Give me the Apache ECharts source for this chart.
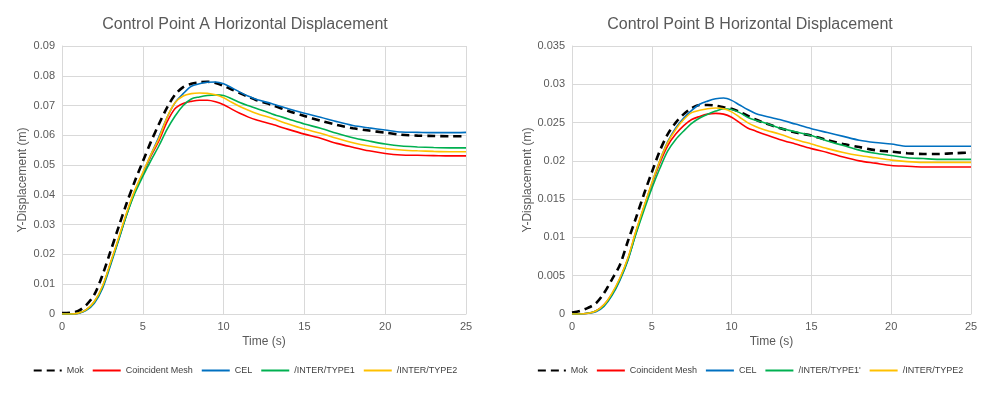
<!DOCTYPE html>
<html>
<head>
<meta charset="utf-8">
<script src="https://cdn.jsdelivr.net/npm/echarts@6/dist/echarts.min.js"></script>
<style>
  html, body { margin: 0; padding: 0; background: #fff; }
  #wrap { position: relative; width: 1006px; height: 396px; }
  #chartA { position: absolute; left: 0; top: 0; width: 490px; height: 396px; }
  #chartB { position: absolute; left: 494px; top: 0; width: 512px; height: 396px; }
</style>
</head>
<body>
<div id="wrap">
  <div id="chartA"></div>
  <div id="chartB"></div>
</div>
<script>
// time samples (s)
var times = [0, 0.5, 1, 1.5, 2, 2.5, 3, 3.5, 4, 4.5, 5, 5.5, 6, 6.5, 7, 7.5,
  8, 8.5, 9, 9.5, 10, 10.5, 11, 11.5, 12,
  13, 14, 15, 16, 17, 18, 19, 20, 21, 22, 23, 24, 25];

// Control point A
var mokA = [0.0003, 0.0004, 0.0010, 0.0030, 0.0065, 0.0130, 0.0210, 0.0292, 0.0372, 0.0445, 0.0512, 0.0578, 0.0638, 0.0693, 0.0737, 0.0762,
  0.0773, 0.0778, 0.0780, 0.0776, 0.0766, 0.0754, 0.0742, 0.0730, 0.0719,
  0.0702, 0.0682, 0.0665, 0.0649, 0.0635, 0.0624, 0.0616, 0.0609, 0.0602, 0.0599, 0.0598, 0.0597, 0.0597];
var meshA = [0, 0, 0.0003, 0.0014, 0.0040, 0.0090, 0.0170, 0.0252, 0.0337, 0.0412, 0.0470, 0.0530, 0.0582, 0.0645, 0.0690, 0.0707,
  0.0714, 0.0718, 0.0718, 0.0713, 0.0703, 0.0688, 0.0674, 0.0662, 0.0652,
  0.0637, 0.0620, 0.0604, 0.0590, 0.0573, 0.0560, 0.0548, 0.0539, 0.0534, 0.0533, 0.0532, 0.0531, 0.0531];
var celA = [0, 0, 0.0002, 0.0012, 0.0036, 0.0085, 0.0163, 0.0247, 0.0333, 0.0410, 0.0472, 0.0535, 0.0595, 0.0660, 0.0710, 0.0740,
  0.0765, 0.0773, 0.0778, 0.0779, 0.0773, 0.0760, 0.0745, 0.0732, 0.0721,
  0.0706, 0.0689, 0.0674, 0.0661, 0.0646, 0.0633, 0.0625, 0.0618, 0.0611, 0.0610, 0.0609, 0.0609, 0.0610];
var type1A = [0, 0, 0.0003, 0.0014, 0.0040, 0.0090, 0.0168, 0.0250, 0.0333, 0.0405, 0.0462, 0.0515, 0.0565, 0.0620, 0.0665, 0.0700,
  0.0722, 0.0729, 0.0734, 0.0736, 0.0734, 0.0723, 0.0710, 0.0700, 0.0691,
  0.0672, 0.0655, 0.0638, 0.0624, 0.0607, 0.0592, 0.0581, 0.0571, 0.0564, 0.0561, 0.0559, 0.0558, 0.0558];
var type2A = [0, 0, 0.0003, 0.0015, 0.0042, 0.0093, 0.0172, 0.0255, 0.0340, 0.0415, 0.0475, 0.0535, 0.0590, 0.0660, 0.0710, 0.0732,
  0.0740, 0.0742, 0.0741, 0.0736, 0.0726, 0.0711, 0.0697, 0.0685, 0.0674,
  0.0657, 0.0638, 0.0621, 0.0607, 0.0590, 0.0575, 0.0564, 0.0556, 0.0551, 0.0548, 0.0546, 0.0545, 0.0545];

// Control point B
var mokB = [0.0002, 0.0004, 0.0008, 0.0014, 0.0027, 0.0045, 0.0064, 0.0095, 0.0125, 0.0156, 0.0185, 0.0213, 0.0235, 0.0250, 0.0261, 0.0269,
  0.0273, 0.0273, 0.0272, 0.0270, 0.0268, 0.0264, 0.0259, 0.0254, 0.0250,
  0.0243, 0.0237, 0.0233, 0.0227, 0.0222, 0.0218, 0.0214, 0.0212, 0.0210, 0.0209, 0.0209, 0.0210, 0.0211];
var meshB = [0, 0, 0.0001, 0.0004, 0.0012, 0.0026, 0.0046, 0.0072, 0.0107, 0.0139, 0.0169, 0.0197, 0.0220, 0.0235, 0.0246, 0.0254,
  0.0258, 0.0261, 0.0262, 0.0261, 0.0257, 0.0250, 0.0243, 0.0239, 0.0235,
  0.0228, 0.0222, 0.0216, 0.0211, 0.0205, 0.0200, 0.0197, 0.0194, 0.0193, 0.0192, 0.0192, 0.0192, 0.0192];
var celB = [0, 0, 0.0001, 0.0003, 0.0010, 0.0024, 0.0044, 0.0070, 0.0105, 0.0138, 0.0170, 0.0200, 0.0225, 0.0243, 0.0256, 0.0266,
  0.0274, 0.0278, 0.0281, 0.0282, 0.0279, 0.0273, 0.0267, 0.0262, 0.0259,
  0.0254, 0.0248, 0.0242, 0.0237, 0.0232, 0.0227, 0.0224, 0.0222, 0.0219, 0.0219, 0.0219, 0.0219, 0.0219];
var type1B = [0, 0, 0.0001, 0.0004, 0.0011, 0.0025, 0.0045, 0.0071, 0.0104, 0.0135, 0.0164, 0.0190, 0.0213, 0.0228, 0.0239, 0.0249,
  0.0256, 0.0261, 0.0265, 0.0268, 0.0267, 0.0263, 0.0257, 0.0253, 0.0250,
  0.0243, 0.0238, 0.0233, 0.0226, 0.0220, 0.0214, 0.0210, 0.0207, 0.0204, 0.0203, 0.0202, 0.0202, 0.0202];
var type2B = [0, 0, 0.0001, 0.0004, 0.0012, 0.0027, 0.0047, 0.0073, 0.0108, 0.0140, 0.0171, 0.0200, 0.0224, 0.0241, 0.0254, 0.0263,
  0.0266, 0.0268, 0.0269, 0.0268, 0.0264, 0.0257, 0.0250, 0.0245, 0.0241,
  0.0235, 0.0228, 0.0222, 0.0216, 0.0211, 0.0207, 0.0204, 0.0201, 0.0199, 0.0198, 0.0198, 0.0198, 0.0198];

var namesA = ['Mok', 'Coincident Mesh', 'CEL', '/INTER/TYPE1', '/INTER/TYPE2'];
var namesB = ['Mok', 'Coincident Mesh', 'CEL', "/INTER/TYPE1'", '/INTER/TYPE2'];
var colors = ['#000000', '#FF0000', '#0070C0', '#00B050', '#FFC000'];

var font = 'Liberation Sans, Arial, sans-serif';
var grey = '#595959';

function pairs(vals) {
  return times.map(function (t, i) { return [t, vals[i]]; });
}

function makeSeries(names, lists) {
  return lists.map(function (vals, i) {
    return {
      name: names[i],
      type: 'line',
      smooth: 0.3,
      symbol: 'none',
      data: pairs(vals),
      lineStyle: i === 0
        ? { color: colors[i], width: 2.6, type: [8, 5] }
        : { color: colors[i], width: 1.6 },
      itemStyle: { color: colors[i] }
    };
  });
}

function buildOption(title, names, lists, yMax, yStep, gridLeft, gridRight, nameGap) {
  return {
    animation: false,
    textStyle: { fontFamily: font },
    title: {
      text: title,
      left: 'center',
      top: 12,
      textStyle: { fontFamily: font, fontSize: 16, fontWeight: 'normal', color: grey }
    },
    legend: {
      data: names,
      bottom: 16,
      left: 'center',
      itemWidth: 28,
      itemHeight: 10,
      itemGap: 8,
      itemStyle: { opacity: 0 },
      textStyle: { fontFamily: font, fontSize: 9, color: '#404040' }
    },
    grid: { left: gridLeft, right: gridRight, top: 46, bottom: 82 },
    xAxis: {
      type: 'value',
      min: 0,
      max: 25,
      interval: 5,
      name: 'Time (s)',
      nameLocation: 'middle',
      nameGap: 22,
      nameMoveOverlap: false,
      nameTextStyle: { fontFamily: font, fontSize: 12, color: grey },
      axisLine: { lineStyle: { color: '#D9D9D9', width: 1 } },
      axisTick: { show: false },
      axisLabel: { fontFamily: font, fontSize: 11, color: grey, margin: 7 },
      splitLine: { lineStyle: { color: '#D9D9D9', width: 1 } }
    },
    yAxis: {
      type: 'value',
      min: 0,
      max: yMax,
      interval: yStep,
      name: 'Y-Displacement (m)',
      nameLocation: 'middle',
      nameGap: nameGap,
      nameMoveOverlap: false,
      nameTextStyle: { fontFamily: font, fontSize: 12, color: grey },
      axisLine: { show: true, lineStyle: { color: '#D9D9D9', width: 1 } },
      axisTick: { show: false },
      axisLabel: { fontFamily: font, fontSize: 11, color: grey, margin: 7 },
      splitLine: { lineStyle: { color: '#D9D9D9', width: 1 } }
    },
    series: makeSeries(names, lists)
  };
}

var chartA = echarts.init(document.getElementById('chartA'));
chartA.setOption(buildOption('Control Point A Horizontal Displacement', namesA,
  [mokA, meshA, celA, type1A, type2A], 0.09, 0.01, 62, 24, 33));

var chartB = echarts.init(document.getElementById('chartB'));
chartB.setOption(buildOption('Control Point B Horizontal Displacement', namesB,
  [mokB, meshB, celB, type1B, type2B], 0.035, 0.005, 78, 35, 38));
</script>
</body>
</html>
